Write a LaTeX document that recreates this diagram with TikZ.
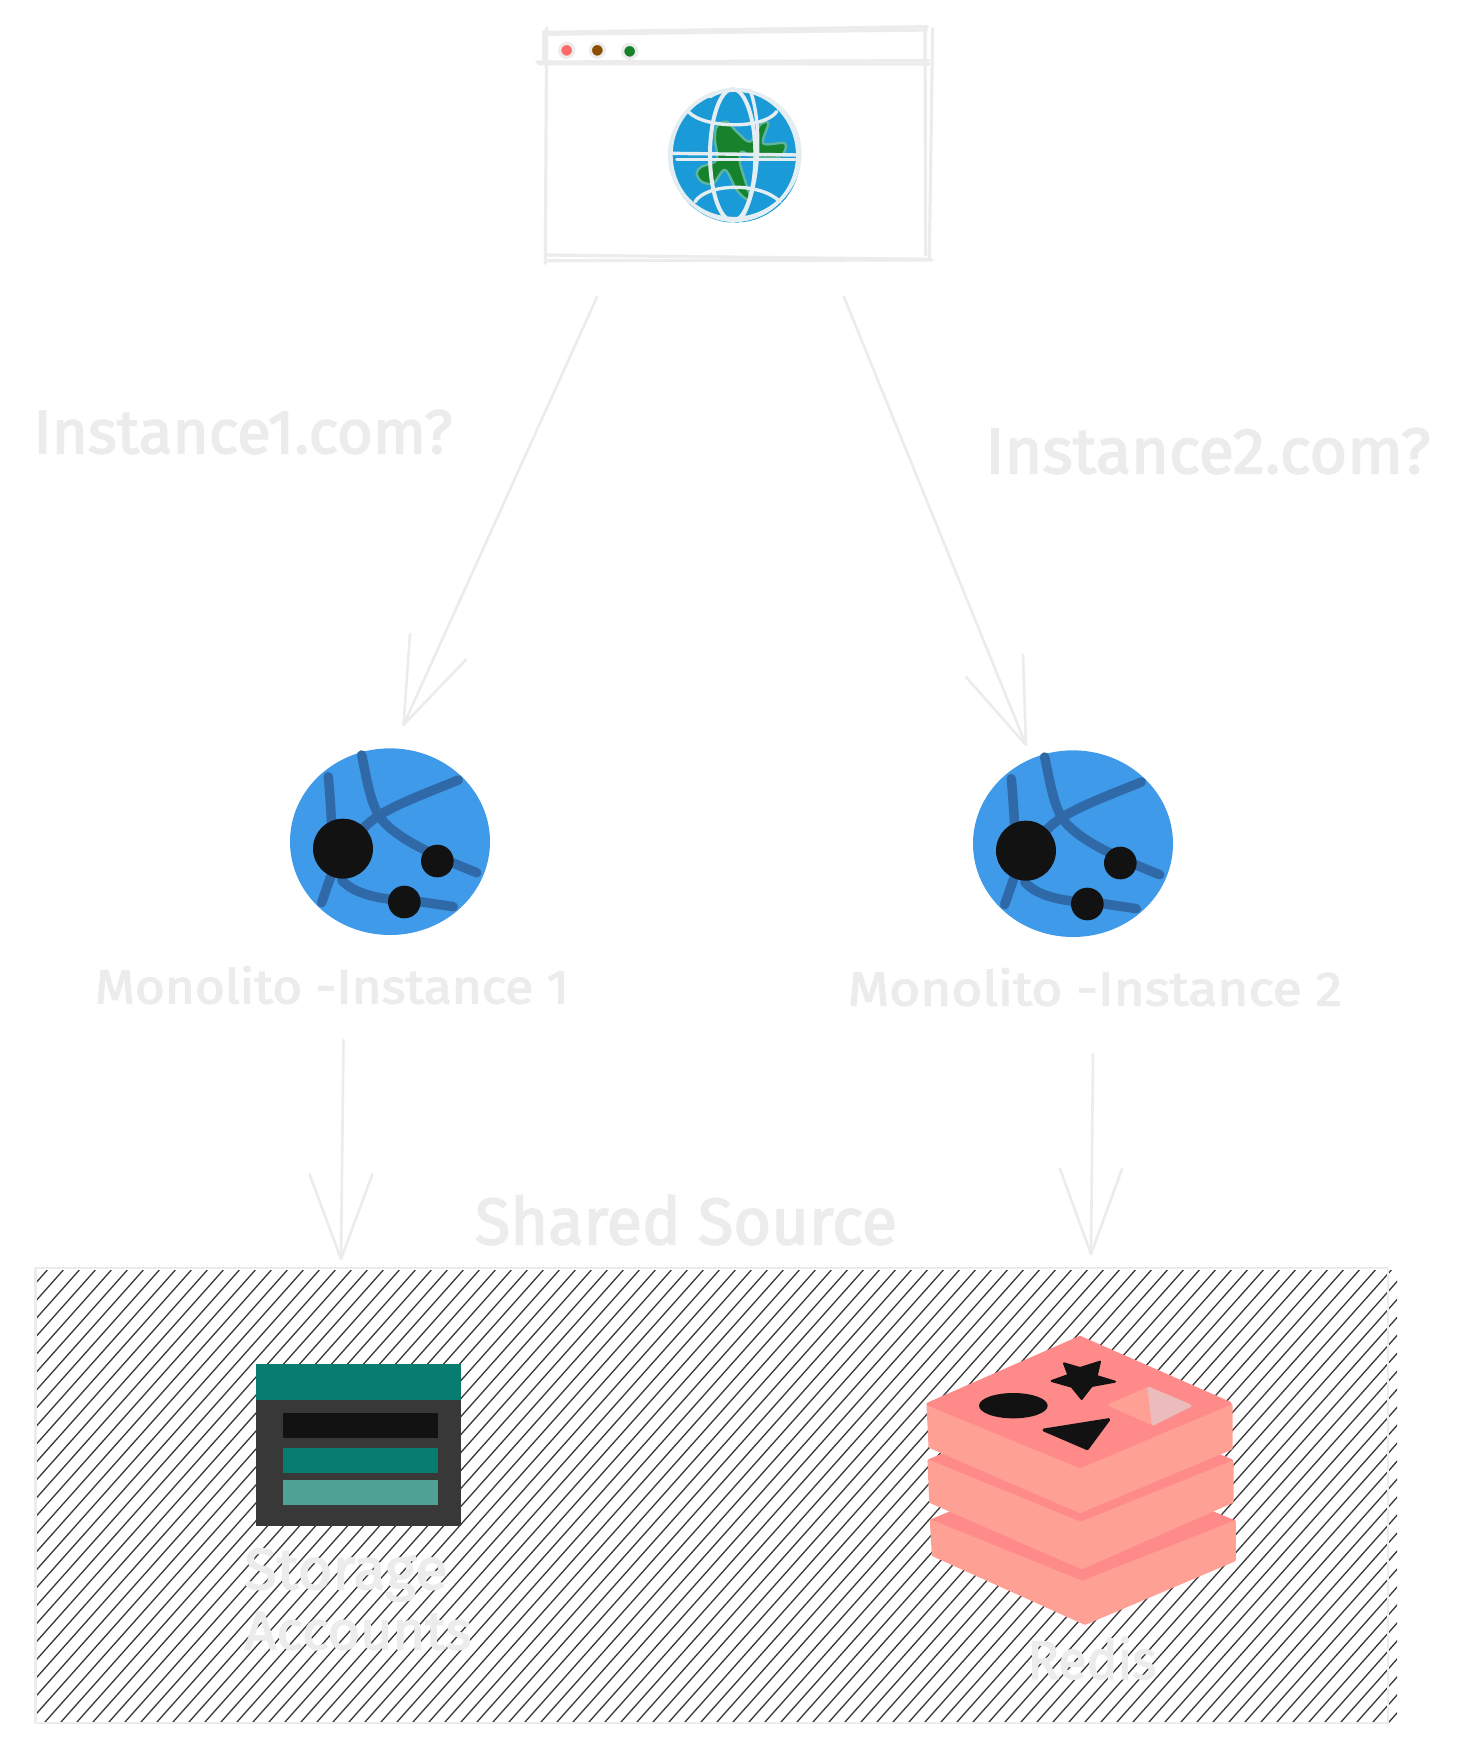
\documentclass[tikz,border=0pt]{standalone}
\usepackage{fontspec}
\usepackage{graphicx}
\setmainfont{Fira Sans}
\newfontfamily\lblfont[FakeBold=2.4]{Fira Sans}
\definecolor{sk}{HTML}{ECECEC}
\definecolor{road}{HTML}{2F69A8}
\definecolor{gblue}{HTML}{3F9BEA}
\definecolor{ink}{HTML}{121212}
\definecolor{earth}{HTML}{1A9AD6}
\definecolor{land}{HTML}{17822C}
\definecolor{landedge}{HTML}{5CB5A0}
\definecolor{grid}{HTML}{E4EDF2}
\definecolor{rdark}{HTML}{FF8A8A}
\definecolor{rlight}{HTML}{FFA094}
\definecolor{rpale}{HTML}{ECBCBC}
\definecolor{teal}{HTML}{087D6F}
\definecolor{tealpale}{HTML}{4FA196}
\definecolor{slate}{HTML}{383838}
\definecolor{dotred}{HTML}{FF6B6B}
\definecolor{dotbrown}{HTML}{8A4E00}
\newcommand{\fitlabel}[3]{\resizebox*{#1pt}{#2pt}{#3}}
\tikzset{
  sketch/.style={draw=sk,line width=2.6pt,line cap=round,line join=round},
  wire/.style={draw=sk,line width=3.2pt,line cap=round,line join=round},
  lbl/.style={inner sep=0pt,outer sep=0pt,text=sk,font=\lblfont},
  roadline/.style={draw=road,line width=9.5pt,line cap=round,line join=round},
  layer/.style={line width=3pt,line join=round},
  zoomed/.style={x=0.33333pt,y=-0.33333pt},
}
\newcommand{\netglobe}[2]{%
  \begin{scope}[shift={(#1,#2)},zoomed]
    \fill[gblue] (360,335) ellipse (300 and 280);
    \draw[roadline] (175,140) .. controls (180,200) and (183,240) .. (185,290);
    \draw[roadline] (275,75) .. controls (295,170) and (305,240) .. (345,280) .. controls (400,335) and (500,380) .. (620,428);
    \draw[roadline] (565,150) .. controls (430,205) and (330,240) .. (280,295);
    \draw[roadline] (182,440) -- (155,518);
    \draw[roadline] (215,450) .. controls (260,500) and (350,510) .. (450,515) -- (550,530);
    \fill[ink] (219,356) circle (90);
    \fill[ink] (502,393) circle (49);
    \fill[ink] (403,516) circle (49);
  \end{scope}}
\begin{document}
\begin{tikzpicture}[x=1pt,y=-1pt]
\useasboundingbox (0,0) rectangle (1461,1754);
\fill[white] (0,0) rectangle (1461,1754);

% shared source panel
\begin{scope}
  \clip (37,1270) rectangle (1397,1723);
  \foreach \k in {-27,...,85} {
    \pgfmathsetmacro{\c}{463.3+16*\k}
    \draw[color=slate,line width=1.3pt] (\c,1270) -- (\c-403.2,1723);
  }
\end{scope}
\draw[sketch] (35.5,1268) -- (1388,1268) -- (1388,1723) -- (35.5,1723) -- cycle;

% browser window
\begin{scope}[shift={(520,0)},zoomed]
  \draw[wire] (80,85) -- (76,790);
  \draw[wire] (72,95) -- (72,190);
  \draw[wire] (70,97) -- (1222,80);
  \draw[wire] (72,103) -- (1220,90);
  \draw[wire] (1215,85) -- (1217,765);
  \draw[wire] (1238,85) -- (1228,775);
  \draw[wire] (50,186) -- (1226,182);
  \draw[wire] (55,191) -- (1228,192);
  \draw[wire] (78,765) -- (1235,778);
  \draw[wire] (78,782) -- (1235,780);
  \filldraw[draw=sk,line width=3.2pt,fill=dotred] (140,151) circle (21);
  \filldraw[draw=sk,line width=3.2pt,fill=dotbrown] (232,151) circle (21);
  \filldraw[draw=sk,line width=3.2pt,fill=land] (329,154) circle (21);
  \fill[earth] (645,468) ellipse (197 and 200);
  \filldraw[fill=land,draw=landedge,line width=2.4pt,line join=round]
    plot[smooth cycle,tension=0.55] coordinates {(590,380) (620,365) (650,395) (690,425) (720,375) (745,370) (730,430) (795,430) (780,470) (700,470) (665,455) (660,490) (690,590) (680,598) (650,570) (615,510) (580,550) (545,545) (530,520) (545,500) (590,480) (585,420)};
  \begin{scope}[draw=grid,line width=3.4pt,line cap=round]
    \draw (643,465) ellipse (190 and 196);
    \draw[rotate around={20:(645,465)}] (645,463) ellipse (196 and 192);
    \draw[line width=4pt] (638,465) ellipse (68 and 198);
    \draw (690,270) .. controls (725,360) and (725,560) .. (660,665);
    \draw (455,460) -- (835,465);
    \draw (470,478) -- (825,478);
    \draw (505,335) .. controls (550,385) and (730,390) .. (770,335);
    \draw (525,605) .. controls (560,550) and (720,545) .. (780,605);
    \draw (570,290) .. controls (610,265) and (670,262) .. (705,280);
  \end{scope}
\end{scope}

% storage account icon
\begin{scope}[shift={(220,1340)},zoomed]
  \fill[slate] (107,180) rectangle (723,557);
  \fill[teal] (107,72) rectangle (723,180);
  \fill[ink] (188,220) rectangle (654,295);
  \fill[teal] (188,323) rectangle (654,399);
  \fill[tealpale] (188,419) rectangle (654,495);
\end{scope}

% redis icon
\begin{scope}[shift={(900,1320)},zoomed]
  \filldraw[layer,draw=rdark,fill=rdark] (94,602) -- (545,415) -- (1003,605) -- (547,790) -- cycle;
  \filldraw[layer,draw=rlight,fill=rlight] (94,604) -- (547,787) -- (1003,607) -- (1003,720) -- (555,910) -- (100,705) -- cycle;
  \filldraw[layer,draw=rdark,fill=rdark] (87,422) -- (540,235) -- (995,422) -- (542,612) -- cycle;
  \filldraw[layer,draw=rlight,fill=rlight] (87,424) -- (542,610) -- (996,427) -- (996,545) -- (545,743) -- (92,545) -- cycle;
  \filldraw[layer,draw=rlight,fill=rlight] (84,254) -- (540,440) -- (993,256) -- (993,385) -- (540,575) -- (90,380) -- cycle;
  \filldraw[layer,draw=rdark,fill=rdark] (84,252) -- (540,52) -- (990,250) -- (540,440) -- cycle;
  \fill[ink] (340,257) ellipse (103 and 38);
  \filldraw[draw=ink,fill=ink,line width=2pt,line join=round] (492,130) -- (540,144) -- (600,125) -- (590,168) -- (645,185) -- (575,198) -- (545,237) -- (515,200) -- (455,183) -- (505,165) -- cycle;
  \filldraw[draw=ink,fill=ink,line width=3pt,line join=round] (432,330) -- (626,299) -- (562,386) -- cycle;
  \filldraw[draw=rlight,fill=rlight,line width=3pt,line join=round] (630,255) -- (745,205) -- (760,312) -- cycle;
  \filldraw[draw=rpale,fill=rpale,line width=3pt,line join=round] (747,205) -- (870,257) -- (760,312) -- cycle;
\end{scope}

% monolith globes
\netglobe{270}{730}
\netglobe{953}{732}

% labels
\node[lbl] (l1) at (243,432) {\fitlabel{419}{44}{Instance1.com?}};
\node[lbl] (l2) at (1208,451) {\fitlabel{445}{46}{Instance2.com?}};
\node[lbl] (m1) at (332,985) {\fitlabel{474}{38}{Monolito -Instance 1}};
\node[lbl] (m2) at (1095,987) {\fitlabel{494}{38}{Monolito -Instance 2}};
\node[lbl] (shared) at (686,1220) {\fitlabel{422}{50}{Shared Source}};
\node[lbl] (st) at (346,1575) {\fitlabel{203}{53}{Storage}};
\node[lbl] (ac) at (358,1631) {\fitlabel{227}{38}{Accounts}};
\node[lbl] (rd) at (1092,1658) {\fitlabel{129}{43}{Redis}};

% connectors
\coordinate (a1s) at (597,297);
\coordinate (a1e) at (403.5,725);
\coordinate (a1l) at (410,634);
\coordinate (a1r) at (466,659.5);
\coordinate (a2s) at (844,297);
\coordinate (a2e) at (1026,745);
\coordinate (a2l) at (1023,655);
\coordinate (a2r) at (966,677);
\coordinate (a3s) at (343.5,1040);
\coordinate (a3e) at (341,1259);
\coordinate (a3l) at (309.5,1174);
\coordinate (a3r) at (372.5,1174);
\coordinate (a4s) at (1093,1054);
\coordinate (a4e) at (1091,1254);
\coordinate (a4l) at (1060,1169);
\coordinate (a4r) at (1122,1169);
\foreach \a in {a1,a2,a3,a4} {
  \draw[sketch] (\a s) -- (\a e);
  \draw[sketch] (\a l) -- (\a e) -- (\a r);
}
\end{tikzpicture}
\end{document}
